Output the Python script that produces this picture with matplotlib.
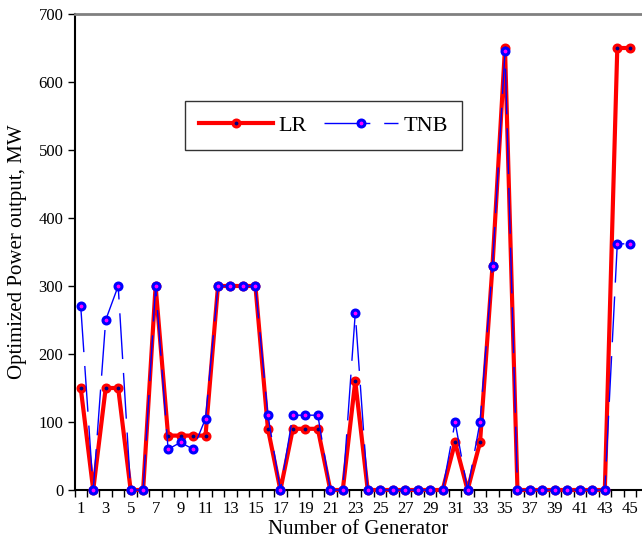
import matplotlib
matplotlib.use("Agg")
import matplotlib.pyplot as plt
import numpy as np

generators = list(range(1, 46))
lr = [150, 0, 150, 150, 0, 0, 300, 80, 80, 80, 80, 300, 300, 300, 300, 90, 0, 90, 90, 90,
      0, 0, 160, 0, 0, 0, 0, 0, 0, 0, 70, 0, 70, 330, 650, 0, 0, 0, 0, 0, 0, 0, 0, 650, 650]
tnb = [270, 0, 250, 300, 0, 0, 300, 60, 70, 60, 105, 300, 300, 300, 300, 110, 0, 110, 110, 110,
       0, 0, 260, 0, 0, 0, 0, 0, 0, 0, 100, 0, 100, 330, 645, 0, 0, 0, 0, 0, 0, 0, 0, 362, 362]
xtick_labels = [str(i) for i in range(1, 46, 2)]
yticks = [0, 100, 200, 300, 400, 500, 600, 700]

plt.rcParams['font.family'] = ['Liberation Serif', 'DejaVu Serif']

fig = plt.figure(figsize=(6.42, 5.48), dpi=100)
W, H = 642, 548
ax = fig.add_axes([74.5 / W, (H - 490) / H, (642 - 74.5) / W, (490 - 14) / H])

ax.plot(generators, lr, color='red', lw=3, marker='o', markersize=5,
        markerfacecolor='#000080', markeredgecolor='red', markeredgewidth=2.2,
        label='LR', zorder=3, clip_on=False)
ax.plot(generators, tnb, color='blue', lw=1, marker='o', markersize=5,
        markerfacecolor='#ff00ff', markeredgecolor='blue', markeredgewidth=2.2,
        dashes=(33, 10), label='TNB', zorder=4, clip_on=False)

ax.set_xlim(0.5, 45.98)
ax.set_ylim(0, 700)
ax.set_yticks(yticks)
ax.set_xticks(range(1, 46, 2))
ax.set_xticklabels(xtick_labels)
ax.set_xticks(np.arange(0.5, 46, 1), minor=True)
ax.tick_params(axis='x', which='major', length=0, pad=8, labelsize=12)
ax.tick_params(axis='x', which='minor', length=5, direction='out', width=1)
ax.tick_params(axis='y', length=5, direction='out', width=1, labelsize=12, pad=3)

ax.spines['right'].set_visible(False)
ax.spines['top'].set_color('#808080')
ax.spines['top'].set_linewidth(2)
ax.spines['left'].set_linewidth(1.5)
ax.spines['bottom'].set_linewidth(1.5)

ax.set_xlabel('Number of Generator', fontsize=15, labelpad=2)
ax.set_ylabel('Optimized Power output, MW', fontsize=15, labelpad=8)

leg = ax.legend(loc='upper left', bbox_to_anchor=((185 - 74.5) / (642 - 74.5), (490 - 101) / 476),
                borderaxespad=0, ncol=2, fontsize=16, frameon=True, fancybox=False,
                handlelength=3.3, columnspacing=0.8, borderpad=0.65, handletextpad=0.25)
leg.get_frame().set_edgecolor('black')
leg.get_frame().set_linewidth(1)

fig.savefig('out.png', dpi=100)
